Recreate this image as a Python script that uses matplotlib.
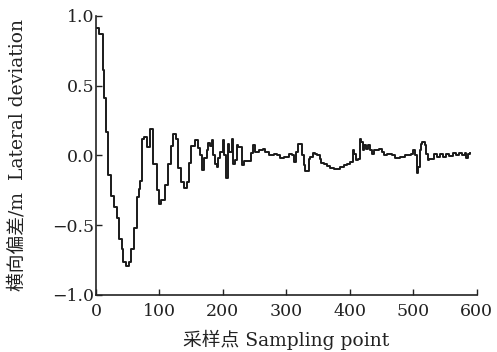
import matplotlib
matplotlib.use("Agg")
import matplotlib.pyplot as plt

plt.rcParams['font.family'] = ['DejaVu Serif', 'Noto Sans CJK SC']
plt.rcParams['axes.unicode_minus'] = True

# step breakpoints: sampling point index and lateral deviation (m)
sample = [0, 5.2, 10.6, 12.6, 15.8, 19.4, 23.7, 28.4, 32.7, 36.8, 41, 43.1, 47.4, 51.6,
          54.8, 60, 64.3, 67.4, 69.5, 72.6, 75.8, 81, 85.3, 90.5, 95.8, 99, 103, 109.4,
          113.7, 118, 122, 126.3, 129.5, 133.7, 139, 144, 147.3, 150.5, 156, 161.5, 164,
          167.9, 171, 174.7, 177.4, 180, 182.6, 185.2, 187.9, 190.5, 193, 196, 200, 202,
          205.3, 207.4, 210.5, 214.2, 216.8, 219.5, 222.1, 224.7, 230, 232.6, 244.2, 246.9,
          251.1, 256.3, 263.2, 266.9, 272.1, 280, 285.3, 289.5, 295.8, 303.7, 309, 312.6,
          315.8, 318.4, 324.7, 327.4, 330, 335.3, 336.8, 342.1, 344.7, 348.4, 352.6, 354.7,
          359, 364.2, 369.5, 374.7, 380, 385.3, 390.5, 395.8, 401, 405.3, 407.4, 410.5,
          412.6, 415.8, 417.9, 421.1, 423.2, 425.3, 428.4, 431.6, 435.3, 437.9, 445.8, 451,
          453.7, 459, 466.8, 472.1, 480, 487.9, 495.8, 500, 502.1, 505.3, 507.9, 510, 511.6,
          514.2, 517.9, 521, 523.2, 525.3, 532.6, 538, 543, 547, 552, 557, 562, 567, 572,
          577, 581, 584, 587, 590]
deviation = [0.91, 0.87, 0.61, 0.41, 0.17, -0.14, -0.29, -0.37, -0.45, -0.60, -0.67, -0.765,
             -0.79, -0.765, -0.67, -0.52, -0.30, -0.24, -0.18, 0.12, 0.13, 0.06, 0.19, -0.06,
             -0.25, -0.345, -0.32, -0.215, -0.065, 0.07, 0.155, 0.12, -0.09, -0.19, -0.23,
             -0.19, -0.055, 0.07, 0.107, 0.05, 0.0, -0.107, -0.02, 0.04, 0.09, 0.07, 0.107,
             0.0, -0.06, -0.08, -0.02, 0.024, 0.107, 0.0, -0.165, 0.084, 0.024, 0.12, -0.06,
             -0.036, 0.072, 0.06, -0.072, -0.043, 0.017, 0.076, 0.024, 0.036, 0.048, 0.024,
             0.0, 0.012, 0.0, -0.017, -0.012, 0.007, 0.0, -0.048, 0.024, 0.084, 0.0, -0.072,
             -0.11, -0.024, -0.012, 0.017, 0.012, 0.0, -0.024, -0.055, -0.065, -0.079, -0.093,
             -0.10, -0.096, -0.084, -0.072, -0.06, -0.05, 0.036, 0.012, -0.036, -0.024, 0.12,
             0.096, 0.04, 0.072, 0.048, 0.072, 0.036, 0.012, 0.04, 0.048, 0.024, 0.0, 0.012,
             0.0, -0.017, -0.012, 0.0, 0.012, 0.036, 0.0, -0.127, -0.084, 0.036, 0.084, 0.096,
             0.072, 0.012, -0.036, -0.024, 0.007, -0.012, 0.007, -0.012, 0.012, -0.005, 0.017,
             0.0, 0.017, 0.005, 0.017, -0.017, 0.012, 0.017]

xticks = [0, 100, 200, 300, 400, 500, 600]
yticks = [-1.0, -0.5, 0.0, 0.5, 1.0]

fig = plt.figure(figsize=(4.97, 3.52), dpi=100)
ax = fig.add_axes([0.193, 0.162, 0.766, 0.793])
ax.step(sample, deviation, where='post', color='#1a1a1a', lw=1.4)

ax.set_xlim(0, 600)
ax.set_ylim(-1.0, 1.0)
ax.set_xticks(xticks)
ax.set_yticks(yticks)
ax.set_yticklabels([f"{v:.1f}".replace('-', '\u2212') for v in yticks])
ax.tick_params(direction='in', length=4, width=1, labelsize=12.5, colors='#222222')
ax.tick_params(axis='y', pad=1)
ax.tick_params(axis='x', pad=6)
for s in ['top', 'right']:
    ax.spines[s].set_visible(False)
for s in ['left', 'bottom']:
    ax.spines[s].set_linewidth(1.2)
    ax.spines[s].set_color('#222222')

ax.set_xlabel('采样点 Sampling point', fontsize=13.5, color='#222222')
ax.set_ylabel('横向偏差/m  Lateral deviation', fontsize=13.5, color='#222222')
ax.xaxis.label.set_va('center')
ax.xaxis.set_label_coords(0.5, -0.16)
ax.yaxis.label.set_va('center')
ax.yaxis.set_label_coords(-0.205, 0.5)

fig.savefig('out.png', dpi=100)
